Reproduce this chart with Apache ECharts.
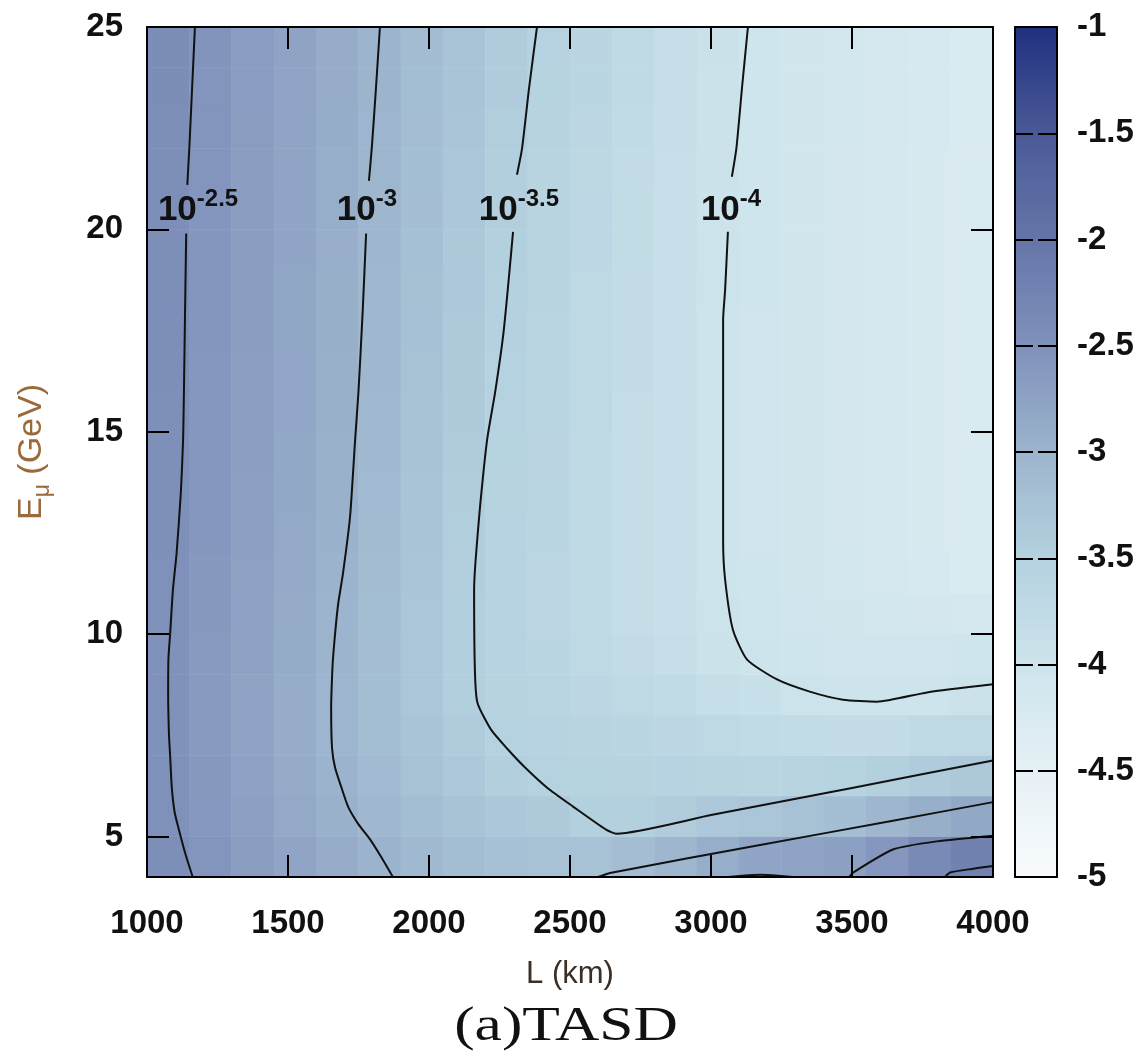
<!DOCTYPE html>
<html>
<head>
<meta charset="utf-8">
<script src="https://cdn.jsdelivr.net/npm/echarts@6.0.0/dist/echarts.min.js"></script>
<style>
  html, body { margin: 0; padding: 0; background: #fff; }
  #chart { width: 1148px; height: 1056px; }
</style>
</head>
<body>
<div id="chart"></div>
<script>
// baseline L (km), centres of the pm3d cells
const lCenters = [1075, 1225, 1375, 1525, 1675, 1825, 1975, 2125, 2275, 2425,
                  2575, 2725, 2875, 3025, 3175, 3325, 3475, 3625, 3775, 3925];
// muon energy (GeV), centres of the rows, bottom to top
const eCenters = [4.5, 5.5, 6.5, 7.5, 8.5, 9.5, 10.5, 11.5, 12.5, 13.5, 14.5,
                  15.5, 16.5, 17.5, 18.5, 19.5, 20.5, 21.5, 22.5, 23.5, 24.5];

// log10 values, one row per energy (same order as eCenters)
const logValues = [
  [-2.45, -2.56, -2.67, -2.78, -2.89, -2.99, -3.08, -3.15, -3.21, -3.22, -3.22, -3.16, -3.04, -2.91, -2.80, -2.77, -2.72, -2.59, -2.38, -2.22],
  [-2.48, -2.60, -2.72, -2.84, -2.95, -3.06, -3.15, -3.24, -3.32, -3.40, -3.48, -3.48, -3.43, -3.35, -3.31, -3.23, -3.17, -3.05, -2.93, -2.83],
  [-2.49, -2.62, -2.74, -2.87, -2.99, -3.11, -3.23, -3.35, -3.46, -3.52, -3.54, -3.55, -3.56, -3.59, -3.60, -3.58, -3.54, -3.48, -3.41, -3.34],
  [-2.50, -2.63, -2.76, -2.89, -3.02, -3.15, -3.28, -3.42, -3.52, -3.56, -3.59, -3.62, -3.66, -3.70, -3.75, -3.78, -3.80, -3.79, -3.73, -3.69],
  [-2.50, -2.63, -2.76, -2.89, -3.02, -3.17, -3.31, -3.46, -3.55, -3.60, -3.65, -3.70, -3.76, -3.83, -3.90, -3.97, -4.01, -4.02, -3.99, -3.95],
  [-2.50, -2.63, -2.75, -2.88, -3.01, -3.16, -3.31, -3.46, -3.56, -3.64, -3.70, -3.77, -3.84, -3.94, -4.02, -4.04, -4.05, -4.06, -4.05, -4.04],
  [-2.49, -2.62, -2.74, -2.87, -3.00, -3.15, -3.31, -3.46, -3.56, -3.65, -3.73, -3.81, -3.89, -3.97, -4.03, -4.06, -4.09, -4.11, -4.13, -4.15],
  [-2.48, -2.61, -2.73, -2.86, -2.98, -3.14, -3.30, -3.45, -3.56, -3.65, -3.73, -3.82, -3.90, -3.99, -4.04, -4.08, -4.12, -4.16, -4.20, -4.24],
  [-2.47, -2.59, -2.72, -2.84, -2.97, -3.12, -3.28, -3.44, -3.56, -3.64, -3.73, -3.82, -3.90, -3.99, -4.05, -4.09, -4.13, -4.17, -4.21, -4.25],
  [-2.46, -2.59, -2.71, -2.83, -2.96, -3.11, -3.27, -3.43, -3.55, -3.64, -3.73, -3.81, -3.90, -3.99, -4.05, -4.10, -4.14, -4.18, -4.22, -4.26],
  [-2.46, -2.58, -2.70, -2.83, -2.95, -3.09, -3.25, -3.42, -3.54, -3.63, -3.72, -3.81, -3.90, -3.99, -4.05, -4.10, -4.14, -4.18, -4.22, -4.26],
  [-2.46, -2.58, -2.70, -2.82, -2.94, -3.08, -3.24, -3.40, -3.53, -3.62, -3.71, -3.81, -3.90, -3.99, -4.05, -4.10, -4.14, -4.18, -4.22, -4.26],
  [-2.45, -2.58, -2.70, -2.82, -2.94, -3.07, -3.23, -3.38, -3.52, -3.61, -3.71, -3.80, -3.90, -3.99, -4.05, -4.10, -4.14, -4.18, -4.22, -4.26],
  [-2.45, -2.57, -2.69, -2.81, -2.93, -3.06, -3.21, -3.36, -3.51, -3.60, -3.70, -3.80, -3.89, -3.99, -4.05, -4.10, -4.14, -4.18, -4.22, -4.26],
  [-2.45, -2.57, -2.69, -2.81, -2.93, -3.06, -3.20, -3.35, -3.50, -3.59, -3.69, -3.79, -3.89, -3.98, -4.04, -4.09, -4.13, -4.17, -4.21, -4.25],
  [-2.45, -2.57, -2.69, -2.80, -2.92, -3.05, -3.19, -3.34, -3.48, -3.59, -3.68, -3.78, -3.88, -3.98, -4.04, -4.09, -4.13, -4.17, -4.21, -4.25],
  [-2.45, -2.57, -2.68, -2.80, -2.91, -3.04, -3.18, -3.33, -3.47, -3.58, -3.68, -3.78, -3.87, -3.97, -4.04, -4.09, -4.13, -4.17, -4.21, -4.25],
  [-2.44, -2.56, -2.68, -2.79, -2.91, -3.03, -3.17, -3.31, -3.46, -3.57, -3.67, -3.77, -3.86, -3.96, -4.04, -4.09, -4.13, -4.17, -4.21, -4.25],
  [-2.44, -2.55, -2.67, -2.78, -2.90, -3.02, -3.16, -3.30, -3.44, -3.55, -3.65, -3.75, -3.85, -3.95, -4.03, -4.08, -4.12, -4.16, -4.20, -4.24],
  [-2.43, -2.55, -2.66, -2.78, -2.89, -3.01, -3.15, -3.28, -3.42, -3.54, -3.64, -3.74, -3.84, -3.94, -4.03, -4.08, -4.12, -4.16, -4.20, -4.24],
  [-2.43, -2.54, -2.66, -2.77, -2.89, -3.00, -3.14, -3.27, -3.41, -3.53, -3.63, -3.73, -3.83, -3.93, -4.03, -4.08, -4.12, -4.16, -4.20, -4.24]
];

// contour lines, [L, E] points (broken where labels sit)
const contour25Top = [[1170, 25], [1160, 23.5], [1150, 22], [1143, 21.1]];
const contour25Main = [[1139, 19.9], [1135, 18], [1131, 16], [1128, 14.8], [1120, 13.5], [1105, 12],
  [1092, 11.1], [1082, 10], [1076, 9.4], [1075, 8.5], [1078, 7.5], [1082, 7], [1088, 6.2],
  [1098, 5.6], [1112, 5.2], [1135, 4.6], [1162, 4]];
const contour3Top = [[1826, 25], [1812, 23.5], [1797, 22], [1787, 21.2]];
const contour3Main = [[1777, 19.9], [1765, 18], [1750, 16], [1738, 14.8], [1720, 12.9], [1695, 11.5],
  [1677, 10.7], [1660, 9.44], [1656, 8.9], [1653, 8.2], [1656, 7.2], [1667, 6.7], [1690, 6.2],
  [1713, 5.74], [1750, 5.3], [1791, 4.93], [1830, 4.5], [1872, 4]];
const contour35Top = [[2383, 25], [2355, 23.5], [2330, 22], [2312, 21.35]];
const contour35Main = [[2298, 19.94], [2265, 17.5], [2235, 16], [2206, 14.8], [2181, 13.15], [2165, 11.8],
  [2160, 11.1], [2163, 9.05], [2172, 8.3], [2220, 7.64], [2280, 7.15], [2337, 6.73], [2420, 6.2],
  [2511, 5.74], [2628, 5.17], [2665, 5.07], [3000, 5.53], [3500, 6.2], [4000, 6.88]];
const contour4Top = [[3131, 25], [3110, 23.5], [3090, 22], [3074, 21.3]];
const contour4Main = [[3060, 19.94], [3050, 18.5], [3043, 17.77], [3043, 14.8], [3043, 12.3], [3050, 11.35],
  [3078, 10.1], [3128, 9.37], [3234, 8.88], [3350, 8.58], [3468, 8.38], [3589, 8.33], [3766, 8.56], [4000, 8.76]];
const contour3Low = [[2600, 4], [2642, 4.1], [3174, 4.79], [3645, 5.39], [4000, 5.85]];
const contour25Low = [[3490, 4], [3504, 4.11], [3645, 4.68], [3800, 4.88], [4000, 5.02]];
const contour25Arc = [[3060, 4], [3120, 4.04], [3175, 4.055], [3230, 4.04], [3290, 4]];
const contour2Low = [[3830, 4], [3848, 4.11], [3925, 4.2], [4000, 4.27]];

// contour labels "10^exp"
const labelL = [1181, 1780, 2319, 3071];
const labelE = [20.48, 20.48, 20.48, 20.48];
const labelExp = ['-2.5', '-3', '-3.5', '-4'];

const yTicks = [5, 10, 15, 20, 25];
const barMin = -5, barMax = -1, barStep = 0.5;

const FONT = '"Liberation Sans", Arial, sans-serif';
const PLOT = { left: 147, top: 27, width: 846, height: 850 };
const BAR = { left: 1015, top: 27, width: 42, height: 850 };
const palette = ['#f8fbfd', '#e6f0f5', '#cde4ec', '#b4d1df', '#9cb4cd', '#8091bb', '#6575a8', '#4a5a97', '#20307f'];

const heatData = [];
logValues.forEach((row, j) => row.forEach((v, i) => heatData.push([i, j, v])));

const frameLine = { show: true, onZero: false, lineStyle: { color: '#000', width: 2 } };
const tickIn = (len) => ({ show: true, inside: true, length: len, lineStyle: { color: '#000', width: 2 } });
const tickLabel = { color: '#111', fontSize: 33, fontWeight: 'bold', fontFamily: FONT };

function contourLine(points) {
  return {
    type: 'line', xAxisIndex: 0, yAxisIndex: 0, data: points,
    showSymbol: false, smooth: 0.2, silent: true, z: 3,
    lineStyle: { color: '#111', width: 2 }
  };
}

const chart = echarts.init(document.getElementById('chart'), null, { renderer: 'canvas' });

chart.setOption({
  animation: false,
  backgroundColor: '#fff',
  grid: [
    { left: PLOT.left, top: PLOT.top, width: PLOT.width, height: PLOT.height },
    { left: PLOT.left, top: PLOT.top, width: PLOT.width, height: PLOT.height },
    { left: BAR.left, top: BAR.top, width: BAR.width, height: BAR.height }
  ],
  xAxis: [
    {
      gridIndex: 0, type: 'value', min: 1000, max: 4000, interval: 500, position: 'bottom', z: 10,
      axisLine: frameLine, axisTick: tickIn(22), splitLine: { show: false },
      axisLabel: Object.assign({ margin: 30, formatter: (v) => String(v) }, tickLabel),
      name: 'L (km)', nameLocation: 'middle', nameGap: 82,
      nameTextStyle: { color: '#3a3028', fontSize: 31, fontFamily: FONT }
    },
    {
      gridIndex: 0, type: 'value', min: 1000, max: 4000, interval: 500, position: 'top', z: 10,
      axisLine: frameLine, axisTick: tickIn(22), axisLabel: { show: false }, splitLine: { show: false }
    },
    { gridIndex: 1, type: 'category', data: lCenters, show: false },
    {
      gridIndex: 2, type: 'value', min: 0, max: 1, position: 'bottom', z: 10,
      axisLine: frameLine, axisTick: { show: false }, axisLabel: { show: false }, splitLine: { show: false }
    },
    {
      gridIndex: 2, type: 'value', min: 0, max: 1, position: 'top', z: 10,
      axisLine: frameLine, axisTick: { show: false }, axisLabel: { show: false }, splitLine: { show: false }
    }
  ],
  yAxis: [
    {
      gridIndex: 0, type: 'value', min: 4, max: 25, position: 'left', z: 10,
      axisLine: frameLine, splitLine: { show: false },
      axisTick: Object.assign(tickIn(22), { customValues: yTicks }),
      axisLabel: Object.assign({ margin: 24, customValues: yTicks }, tickLabel),
      name: '{e|E}{mu|μ}{e| (GeV)}', nameLocation: 'middle', nameGap: 76,
      nameTextStyle: {
        color: '#9a6a3a', fontFamily: FONT,
        rich: {
          e: { fontSize: 34, lineHeight: 34, verticalAlign: 'top', color: '#9a6a3a', fontFamily: FONT },
          mu: { fontSize: 23, lineHeight: 56, color: '#9a6a3a', fontFamily: FONT }
        }
      }
    },
    {
      gridIndex: 0, type: 'value', min: 4, max: 25, position: 'right', z: 10,
      axisLine: frameLine, splitLine: { show: false },
      axisTick: Object.assign(tickIn(22), { customValues: yTicks }), axisLabel: { show: false }
    },
    { gridIndex: 1, type: 'category', data: eCenters, show: false },
    {
      gridIndex: 2, type: 'value', min: barMin, max: barMax, interval: barStep, position: 'left', z: 10,
      axisLine: frameLine, axisTick: tickIn(18), axisLabel: { show: false }, splitLine: { show: false }
    },
    {
      gridIndex: 2, type: 'value', min: barMin, max: barMax, interval: barStep, position: 'right', z: 10,
      axisLine: frameLine, axisTick: tickIn(19), splitLine: { show: false },
      axisLabel: Object.assign({ margin: 20 }, tickLabel)
    }
  ],
  visualMap: {
    type: 'continuous', min: barMin, max: barMax, seriesIndex: 0, dimension: 2,
    orient: 'vertical', left: BAR.left, top: BAR.top, padding: 0,
    itemWidth: BAR.width, itemHeight: BAR.height,
    calculable: false, hoverLink: false, text: null, showLabel: false,
    inRange: { color: palette }
  },
  series: [
    {
      type: 'heatmap', xAxisIndex: 2, yAxisIndex: 2, data: heatData, z: 2,
      itemStyle: { borderWidth: 0 }, progressive: 0, silent: true
    },
    contourLine(contour25Top), contourLine(contour25Main),
    contourLine(contour3Top), contourLine(contour3Main),
    contourLine(contour35Top), contourLine(contour35Main),
    contourLine(contour4Top), contourLine(contour4Main),
    contourLine(contour3Low), contourLine(contour25Low),
    contourLine(contour25Arc), contourLine(contour2Low),
    {
      type: 'scatter', xAxisIndex: 0, yAxisIndex: 0, symbolSize: 1, silent: true, z: 4,
      itemStyle: { color: 'rgba(0,0,0,0)' },
      data: labelL.map((l, k) => [l, labelE[k], labelExp[k]]),
      label: {
        show: true, position: 'inside', color: '#000', textBorderWidth: 0, opacity: 1,
        formatter: (p) => '{b|10}{s|' + p.value[2] + '}',
        rich: {
          b: { fontSize: 35, lineHeight: 46, fontFamily: FONT, fontWeight: 'bold', color: '#111', textBorderWidth: 0 },
          s: { fontSize: 24, lineHeight: 16, verticalAlign: 'top', fontFamily: FONT, fontWeight: 'bold', color: '#111', textBorderWidth: 0 }
        }
      }
    }
  ],
  graphic: [
    {
      type: 'text', x: 566, y: 1027, scaleX: 1.28, silent: true,
      style: {
        text: '(a)TASD', fill: '#111', fontSize: 48, fontFamily: '"Liberation Serif", "DejaVu Serif", serif',
        align: 'center', verticalAlign: 'middle', textAlign: 'center', textVerticalAlign: 'middle'
      }
    }
  ]
});
</script>
</body>
</html>
